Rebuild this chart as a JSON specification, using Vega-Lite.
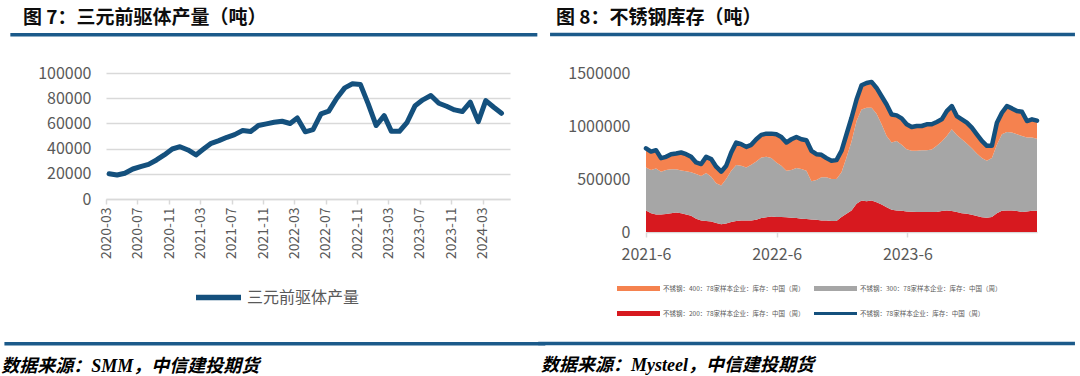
{
  "$schema": "https://vega.github.io/schema/vega-lite/v6.json",
  "background": "white",
  "padding": {"left": 1, "top": 8, "right": 4, "bottom": 4},
  "config": {
    "view": {"stroke": null},
    "font": "Noto Sans CJK SC",
    "axis": {"labelFont": "Noto Sans CJK SC", "labelColor": "#595959", "labelOverlap": false, "labelFlush": false}
  },
  "bounds": "flush",
  "spacing": 136,
  "resolve": {"scale": {"x": "independent", "y": "independent", "color": "independent"}, "legend": {"color": "independent"}},
  "datasets": {
    "precursor": [
      {"month": "2020-03-13", "output": 20000}, {"month": "2020-04-13", "output": 19000}, {"month": "2020-05-13", "output": 20400},
      {"month": "2020-06-13", "output": 23800}, {"month": "2020-07-13", "output": 25700}, {"month": "2020-08-13", "output": 27500},
      {"month": "2020-09-13", "output": 31000}, {"month": "2020-10-13", "output": 35000}, {"month": "2020-11-13", "output": 39700},
      {"month": "2020-12-13", "output": 41500}, {"month": "2021-01-13", "output": 38900}, {"month": "2021-02-13", "output": 35000},
      {"month": "2021-03-13", "output": 39400}, {"month": "2021-04-13", "output": 44200}, {"month": "2021-05-13", "output": 46300},
      {"month": "2021-06-13", "output": 49000}, {"month": "2021-07-13", "output": 51100}, {"month": "2021-08-13", "output": 54300},
      {"month": "2021-09-13", "output": 53500}, {"month": "2021-10-13", "output": 58300}, {"month": "2021-11-13", "output": 59600},
      {"month": "2021-12-13", "output": 60900}, {"month": "2022-01-13", "output": 61700}, {"month": "2022-02-13", "output": 59900},
      {"month": "2022-03-13", "output": 64300}, {"month": "2022-04-13", "output": 53300}, {"month": "2022-05-13", "output": 55000},
      {"month": "2022-06-13", "output": 67500}, {"month": "2022-07-13", "output": 69700}, {"month": "2022-08-13", "output": 80000},
      {"month": "2022-09-13", "output": 88200}, {"month": "2022-10-13", "output": 91400}, {"month": "2022-11-13", "output": 90800},
      {"month": "2022-12-13", "output": 75500}, {"month": "2023-01-13", "output": 58300}, {"month": "2023-02-13", "output": 66200},
      {"month": "2023-03-13", "output": 53700}, {"month": "2023-04-13", "output": 53700}, {"month": "2023-05-13", "output": 60900},
      {"month": "2023-06-13", "output": 74100}, {"month": "2023-07-13", "output": 78700}, {"month": "2023-08-13", "output": 82100},
      {"month": "2023-09-13", "output": 76000}, {"month": "2023-10-13", "output": 73600}, {"month": "2023-11-13", "output": 70700},
      {"month": "2023-12-13", "output": 69400}, {"month": "2024-01-13", "output": 76800}, {"month": "2024-02-13", "output": 61400},
      {"month": "2024-03-13", "output": 78100}, {"month": "2024-04-13", "output": 72800}, {"month": "2024-05-13", "output": 68000}
    ],
    "stock": [
      {"date": "2021-06-01", "s200": 203000, "s300": 406000, "s400": 181000, "total": 790000},
      {"date": "2021-06-15", "s200": 178000, "s300": 406000, "s400": 175000, "total": 759000},
      {"date": "2021-06-29", "s200": 166000, "s300": 434000, "s400": 172000, "total": 772000},
      {"date": "2021-07-13", "s200": 166000, "s300": 403000, "s400": 128000, "total": 697000},
      {"date": "2021-07-27", "s200": 169000, "s300": 415000, "s400": 125000, "total": 709000},
      {"date": "2021-08-10", "s200": 178000, "s300": 413000, "s400": 143000, "total": 734000},
      {"date": "2021-08-24", "s200": 184000, "s300": 407000, "s400": 150000, "total": 741000},
      {"date": "2021-09-07", "s200": 178000, "s300": 403000, "s400": 169000, "total": 750000},
      {"date": "2021-09-21", "s200": 166000, "s300": 406000, "s400": 162000, "total": 734000},
      {"date": "2021-10-05", "s200": 153000, "s300": 410000, "s400": 146000, "total": 709000},
      {"date": "2021-10-19", "s200": 125000, "s300": 422000, "s400": 109000, "total": 656000},
      {"date": "2021-11-02", "s200": 109000, "s300": 419000, "s400": 113000, "total": 641000},
      {"date": "2021-11-16", "s200": 103000, "s300": 453000, "s400": 153000, "total": 709000},
      {"date": "2021-11-30", "s200": 100000, "s300": 422000, "s400": 166000, "total": 688000},
      {"date": "2021-12-14", "s200": 84000, "s300": 375000, "s400": 157000, "total": 616000},
      {"date": "2021-12-28", "s200": 72000, "s300": 366000, "s400": 131000, "total": 569000},
      {"date": "2022-01-11", "s200": 81000, "s300": 419000, "s400": 125000, "total": 625000},
      {"date": "2022-01-25", "s200": 94000, "s300": 484000, "s400": 172000, "total": 750000},
      {"date": "2022-02-08", "s200": 103000, "s300": 528000, "s400": 213000, "total": 844000},
      {"date": "2022-02-22", "s200": 109000, "s300": 516000, "s400": 203000, "total": 828000},
      {"date": "2022-03-08", "s200": 109000, "s300": 500000, "s400": 194000, "total": 803000},
      {"date": "2022-03-22", "s200": 109000, "s300": 525000, "s400": 188000, "total": 822000},
      {"date": "2022-04-05", "s200": 116000, "s300": 550000, "s400": 209000, "total": 875000},
      {"date": "2022-04-19", "s200": 131000, "s300": 572000, "s400": 213000, "total": 916000},
      {"date": "2022-05-03", "s200": 138000, "s300": 571000, "s400": 219000, "total": 928000},
      {"date": "2022-05-17", "s200": 147000, "s300": 550000, "s400": 231000, "total": 928000},
      {"date": "2022-05-31", "s200": 141000, "s300": 515000, "s400": 266000, "total": 922000},
      {"date": "2022-06-14", "s200": 141000, "s300": 484000, "s400": 272000, "total": 897000},
      {"date": "2022-06-28", "s200": 138000, "s300": 440000, "s400": 266000, "total": 844000},
      {"date": "2022-07-12", "s200": 134000, "s300": 450000, "s400": 291000, "total": 875000},
      {"date": "2022-07-26", "s200": 131000, "s300": 472000, "s400": 294000, "total": 897000},
      {"date": "2022-08-09", "s200": 125000, "s300": 469000, "s400": 281000, "total": 875000},
      {"date": "2022-08-23", "s200": 122000, "s300": 456000, "s400": 288000, "total": 866000},
      {"date": "2022-09-06", "s200": 119000, "s300": 359000, "s400": 288000, "total": 766000},
      {"date": "2022-09-20", "s200": 116000, "s300": 375000, "s400": 243000, "total": 734000},
      {"date": "2022-10-04", "s200": 109000, "s300": 407000, "s400": 212000, "total": 728000},
      {"date": "2022-10-18", "s200": 109000, "s300": 407000, "s400": 181000, "total": 697000},
      {"date": "2022-11-01", "s200": 103000, "s300": 397000, "s400": 172000, "total": 672000},
      {"date": "2022-11-15", "s200": 103000, "s300": 397000, "s400": 178000, "total": 678000},
      {"date": "2022-11-29", "s200": 141000, "s300": 422000, "s400": 203000, "total": 766000},
      {"date": "2022-12-13", "s200": 172000, "s300": 531000, "s400": 219000, "total": 922000},
      {"date": "2022-12-27", "s200": 203000, "s300": 650000, "s400": 225000, "total": 1078000},
      {"date": "2023-01-10", "s200": 266000, "s300": 781000, "s400": 203000, "total": 1250000},
      {"date": "2023-01-24", "s200": 297000, "s300": 859000, "s400": 228000, "total": 1384000},
      {"date": "2023-02-07", "s200": 291000, "s300": 881000, "s400": 234000, "total": 1406000},
      {"date": "2023-02-21", "s200": 297000, "s300": 875000, "s400": 244000, "total": 1416000},
      {"date": "2023-03-07", "s200": 281000, "s300": 835000, "s400": 243000, "total": 1359000},
      {"date": "2023-03-21", "s200": 259000, "s300": 757000, "s400": 265000, "total": 1281000},
      {"date": "2023-04-04", "s200": 234000, "s300": 672000, "s400": 297000, "total": 1203000},
      {"date": "2023-04-18", "s200": 209000, "s300": 635000, "s400": 265000, "total": 1109000},
      {"date": "2023-05-02", "s200": 203000, "s300": 656000, "s400": 241000, "total": 1100000},
      {"date": "2023-05-16", "s200": 200000, "s300": 622000, "s400": 250000, "total": 1072000},
      {"date": "2023-05-30", "s200": 194000, "s300": 587000, "s400": 235000, "total": 1016000},
      {"date": "2023-06-13", "s200": 191000, "s300": 575000, "s400": 225000, "total": 991000},
      {"date": "2023-06-27", "s200": 188000, "s300": 578000, "s400": 234000, "total": 1000000},
      {"date": "2023-07-11", "s200": 188000, "s300": 584000, "s400": 228000, "total": 1000000},
      {"date": "2023-07-25", "s200": 188000, "s300": 584000, "s400": 244000, "total": 1016000},
      {"date": "2023-08-08", "s200": 188000, "s300": 590000, "s400": 238000, "total": 1016000},
      {"date": "2023-08-22", "s200": 188000, "s300": 625000, "s400": 225000, "total": 1038000},
      {"date": "2023-09-05", "s200": 197000, "s300": 656000, "s400": 210000, "total": 1063000},
      {"date": "2023-09-19", "s200": 203000, "s300": 703000, "s400": 235000, "total": 1141000},
      {"date": "2023-10-03", "s200": 197000, "s300": 772000, "s400": 219000, "total": 1188000},
      {"date": "2023-10-17", "s200": 188000, "s300": 728000, "s400": 178000, "total": 1094000},
      {"date": "2023-10-31", "s200": 178000, "s300": 697000, "s400": 188000, "total": 1063000},
      {"date": "2023-11-14", "s200": 172000, "s300": 662000, "s400": 197000, "total": 1031000},
      {"date": "2023-11-28", "s200": 163000, "s300": 628000, "s400": 193000, "total": 984000},
      {"date": "2023-12-12", "s200": 150000, "s300": 591000, "s400": 181000, "total": 922000},
      {"date": "2023-12-26", "s200": 138000, "s300": 559000, "s400": 162000, "total": 859000},
      {"date": "2024-01-09", "s200": 134000, "s300": 538000, "s400": 141000, "total": 813000},
      {"date": "2024-01-23", "s200": 141000, "s300": 556000, "s400": 116000, "total": 813000},
      {"date": "2024-02-06", "s200": 178000, "s300": 644000, "s400": 209000, "total": 1031000},
      {"date": "2024-02-20", "s200": 200000, "s300": 722000, "s400": 203000, "total": 1125000},
      {"date": "2024-03-05", "s200": 203000, "s300": 741000, "s400": 244000, "total": 1188000},
      {"date": "2024-03-19", "s200": 203000, "s300": 735000, "s400": 228000, "total": 1166000},
      {"date": "2024-04-02", "s200": 197000, "s300": 725000, "s400": 219000, "total": 1141000},
      {"date": "2024-04-16", "s200": 188000, "s300": 718000, "s400": 228000, "total": 1134000},
      {"date": "2024-04-30", "s200": 194000, "s300": 697000, "s400": 156000, "total": 1047000},
      {"date": "2024-05-14", "s200": 200000, "s300": 691000, "s400": 172000, "total": 1063000},
      {"date": "2024-05-28", "s200": 200000, "s300": 680000, "s400": 170000, "total": 1050000}
    ],
    "noteL": [{"source": "数据来源：SMM，中信建投期货"}],
    "noteR": [{"source": "数据来源：Mysteel，中信建投期货"}]
  },
  "hconcat": [
    {
      "width": 404,
      "height": 126,
      "title": {"text": "图 7：三元前驱体产量（吨）", "anchor": "start", "frame": "group", "dx": -83, "offset": 5, "fontSize": 19, "fontWeight": "bold", "color": "#0d0d0d", "font": "Noto Sans CJK SC"},
      "layer": [
        {
          "data": {"name": "precursor"},
          "mark": {"type": "line", "strokeWidth": 5, "strokeJoin": "round", "strokeCap": "round", "clip": false},
          "encoding": {
            "x": {
              "field": "month", "type": "temporal", "title": null,
              "scale": {"type": "utc", "nice": false, "domain": [{"year": 2020, "month": 3, "date": 1, "utc": true}, {"year": 2024, "month": 6, "date": 15, "utc": true}]},
              "axis": {
                "values": [
                  {"year": 2020, "month": 3, "date": 1, "utc": true}, {"year": 2020, "month": 7, "date": 1, "utc": true}, {"year": 2020, "month": 11, "date": 1, "utc": true},
                  {"year": 2021, "month": 3, "date": 1, "utc": true}, {"year": 2021, "month": 7, "date": 1, "utc": true}, {"year": 2021, "month": 11, "date": 1, "utc": true},
                  {"year": 2022, "month": 3, "date": 1, "utc": true}, {"year": 2022, "month": 7, "date": 1, "utc": true}, {"year": 2022, "month": 11, "date": 1, "utc": true},
                  {"year": 2023, "month": 3, "date": 1, "utc": true}, {"year": 2023, "month": 7, "date": 1, "utc": true}, {"year": 2023, "month": 11, "date": 1, "utc": true},
                  {"year": 2024, "month": 3, "date": 1, "utc": true}
                ],
                "tickCount": 40,
                "format": "%Y-%m", "labelAngle": -90, "labelFontSize": 14, "labelPadding": 3,
                "tickSize": 5, "tickColor": "#d9d9d9", "tickWidth": 1.5, "domainColor": "#d9d9d9", "domainWidth": 1.5,
                "grid": false, "labelOverlap": false, "labelFlush": false
              }
            },
            "y": {
              "field": "output", "type": "quantitative", "title": null,
              "scale": {"domain": [0, 100000], "nice": false},
              "axis": {"values": [0, 20000, 40000, 60000, 80000, 100000], "tickCount": 20, "format": "d", "grid": true, "gridColor": "#d9d9d9", "gridWidth": 1.5, "domain": false, "ticks": false, "labelFontSize": 16, "labelPadding": 15, "labelOverlap": false}
            },
            "color": {
              "datum": "三元前驱体产量",
              "scale": {"domain": ["三元前驱体产量"], "range": ["#14507d"]},
              "legend": {"title": null, "orient": "none", "legendX": 87, "legendY": 199, "padding": 0, "symbolType": "stroke", "symbolSize": 2025, "symbolStrokeWidth": 5.5, "labelFontSize": 16, "labelColor": "#595959", "labelOffset": 3, "labelFont": "Noto Sans CJK SC", "labelLimit": 0}
            }
          }
        },
        {
          "data": {"name": "noteL"},
          "mark": {"type": "rule", "color": "#1b5a8a", "strokeWidth": 3.5, "clip": false},
          "encoding": {
            "x": {"datum": {"year": 2019, "month": 2, "date": 24, "utc": true}},
            "x2": {"datum": {"year": 2024, "month": 9, "date": 29, "utc": true}},
            "y": {"datum": 130400}
          }
        },
        {
          "data": {"name": "noteL"},
          "mark": {"type": "rule", "color": "#1b5a8a", "strokeWidth": 3.5, "clip": false},
          "encoding": {
            "x": {"datum": {"year": 2019, "month": 2, "date": 1, "utc": true}},
            "x2": {"datum": {"year": 2024, "month": 10, "date": 30, "utc": true}},
            "y": {"datum": -114800}
          }
        },
        {
          "data": {"name": "noteL"},
          "mark": {"type": "text", "align": "left", "baseline": "middle", "fontSize": 18, "fontStyle": "italic", "fontWeight": "bold", "font": "Liberation Serif, Noto Sans CJK SC", "color": "#000000", "clip": false},
          "encoding": {
            "x": {"datum": {"year": 2019, "month": 1, "date": 20, "utc": true}},
            "y": {"datum": -133100},
            "text": {"field": "source"}
          }
        }
      ]
    },
    {
      "width": 391,
      "height": 159,
      "title": {"text": "图 8：不锈钢库存（吨）", "anchor": "start", "frame": "group", "dx": -90, "offset": 5, "fontSize": 19, "fontWeight": "bold", "color": "#0d0d0d", "font": "Noto Sans CJK SC"},
      "layer": [
        {
          "data": {"name": "stock"},
          "transform": [{"fold": ["s200", "s300", "s400"], "as": ["series", "value"]}],
          "mark": {"type": "area", "opacity": 1, "clip": false},
          "encoding": {
            "x": {
              "field": "date", "type": "temporal", "title": null,
              "scale": {"type": "utc", "nice": false, "domain": [{"year": 2021, "month": 6, "date": 1, "utc": true}, {"year": 2024, "month": 5, "date": 28, "utc": true}]},
              "axis": {
                "values": [{"year": 2021, "month": 6, "date": 1, "utc": true}, {"year": 2022, "month": 6, "date": 1, "utc": true}, {"year": 2023, "month": 6, "date": 1, "utc": true}],
                "tickCount": 20,
                "format": "%Y-%-m", "labelAngle": 0, "labelFontSize": 16, "labelPadding": 9,
                "tickSize": 5, "tickColor": "#d9d9d9", "tickWidth": 1.5, "domainColor": "#d9d9d9", "domainWidth": 1.5,
                "grid": false, "labelOverlap": false, "labelFlush": false
              }
            },
            "y": {
              "field": "value", "type": "quantitative", "title": null, "stack": "zero",
              "scale": {"domain": [0, 1500000], "nice": false},
              "axis": {"values": [0, 500000, 1000000, 1500000], "tickCount": 20, "format": "d", "grid": false, "domain": false, "ticks": false, "labelFontSize": 16, "labelPadding": 16, "labelOverlap": false}
            },
            "color": {
              "field": "series", "type": "nominal",
              "scale": {"domain": ["s400", "s300", "s200", "total"], "range": ["#f5824f", "#a6a6a6", "#d7191f", "#14507d"]},
              "legend": {
                "title": null, "orient": "none", "direction": "horizontal", "legendX": -29, "legendY": 194, "padding": 0, "columns": 2, "columnPadding": 9, "rowPadding": -9,
                "symbolType": "M-1,-0.12H1V0.12H-1Z", "symbolSize": 1849, "symbolStrokeWidth": 0, "symbolOpacity": 1,
                "labelFontSize": 6.5, "labelColor": "#595959", "labelOffset": 3, "labelFont": "Noto Sans CJK SC", "labelLimit": 0,
                "labelExpr": "{'s400': '不锈钢：400：78家样本企业：库存：中国（周）', 's300': '不锈钢：300：78家样本企业：库存：中国（周）', 's200': '不锈钢：200：78家样本企业：库存：中国（周）', 'total': '不锈钢：78家样本企业：库存：中国（周）'}[datum.value]",
                "encode": {"symbols": {"update": {"shape": [{"test": "datum.value === 'total'", "value": "M-1,-0.075H1V0.075H-1Z"}, {"value": "M-1,-0.12H1V0.12H-1Z"}]}}}
              }
            },
            "order": {"field": "series", "sort": "ascending"}
          }
        },
        {
          "data": {"name": "stock"},
          "mark": {"type": "line", "strokeWidth": 4.5, "strokeJoin": "round", "strokeCap": "round", "clip": false},
          "encoding": {
            "x": {"field": "date", "type": "temporal", "title": null},
            "y": {"field": "total", "type": "quantitative", "title": null},
            "color": {"datum": "total"}
          }
        },
        {
          "data": {"name": "noteR"},
          "mark": {"type": "rule", "color": "#1b5a8a", "strokeWidth": 3.5, "clip": false},
          "encoding": {
            "x": {"datum": {"year": 2020, "month": 9, "date": 6, "utc": true}},
            "x2": {"datum": {"year": 2024, "month": 9, "date": 11, "utc": true}},
            "y": {"datum": 1863200}
          }
        },
        {
          "data": {"name": "noteR"},
          "mark": {"type": "rule", "color": "#1b5a8a", "strokeWidth": 3.5, "clip": false},
          "encoding": {
            "x": {"datum": {"year": 2020, "month": 8, "date": 4, "utc": true}},
            "x2": {"datum": {"year": 2024, "month": 9, "date": 11, "utc": true}},
            "y": {"datum": -1051900}
          }
        },
        {
          "data": {"name": "noteR"},
          "mark": {"type": "text", "align": "left", "baseline": "middle", "fontSize": 18, "fontStyle": "italic", "fontWeight": "bold", "font": "Liberation Serif, Noto Sans CJK SC", "color": "#000000", "clip": false},
          "encoding": {
            "x": {"datum": {"year": 2020, "month": 8, "date": 12, "utc": true}},
            "y": {"datum": -1268800},
            "text": {"field": "source"}
          }
        }
      ]
    }
  ]
}
